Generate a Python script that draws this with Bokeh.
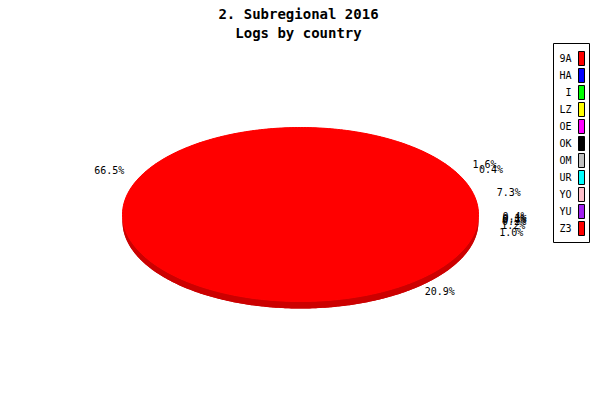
import numpy as np
from bokeh.plotting import figure
from bokeh.models import Range1d, ColumnDataSource
from bokeh.embed import file_html
from bokeh.resources import INLINE
from bokeh.core.properties import value

# ---- data ----
countries = ["9A", "HA", "I", "LZ", "OE", "OK", "OM", "UR", "YO", "YU", "Z3"]
shares = [66.5, 1.6, 0.4, 7.3, 0.4, 0.1, 0.4, 0.2, 1.2, 1.0, 20.9]
legend_colors = ["#ff0000", "#0000ff", "#00ff00", "#ffff00", "#ff00ff", "#000000",
                 "#c0c0c0", "#00ffff", "#ffc0cb", "#a020f0", "#ff0000"]
title_lines = ["2. Subregional 2016", "Logs by country"]

# ---- styling / layout ----
SLICE_COLOR = "#ff0000"   # the original renders every slice in red
SIDE_COLOR = "#cc0000"
MONO = value("DejaVu Sans Mono")
CX, CY, RX, RY, DEPTH = 300.0, 214.0, 178.0, 87.0, 7.0
START, DIRECTION = 273.0, -1.0   # clockwise
LAB_RX, LAB_RY, LAB_CY = 214.0, 100.0, 215.0

p = figure(width=600, height=400, x_range=Range1d(0, 600), y_range=Range1d(400, 0),
           output_backend="svg", toolbar_location=None, min_border=0,
           x_axis_location=None, y_axis_location=None)
p.grid.visible = False
p.outline_line_color = None
p.background_fill_color = "white"
p.border_fill_color = "white"

def ell(a_deg, cy):
    a = np.radians(a_deg)
    return CX + RX * np.cos(a), cy - RY * np.sin(a)

# slice angles
angles = []
cum = 0.0
for v in shares:
    a0 = START + DIRECTION * cum * 3.6
    a1 = START + DIRECTION * (cum + v) * 3.6
    angles.append((a0, a1))
    cum += v

# base shapes under the slices (hide antialiasing seams)
full = np.linspace(0, 360, 361)
bx, by = ell(np.linspace(180, 360, 181), CY)
bx2, by2 = ell(np.linspace(360, 180, 181), CY + DEPTH)
p.patch(list(bx) + list(bx2), list(by) + list(by2), fill_color=SIDE_COLOR, line_color=None)
fx, fy = ell(full, CY)
p.patch(fx, fy, fill_color=SLICE_COLOR, line_color=None)

# side (visible lower half) per slice
side_xs, side_ys = [], []
for a0, a1 in angles:
    n = max(int(abs(a1 - a0) * 2) + 2, 3)
    aa = np.linspace(a0, a1, n)
    mask = np.sin(np.radians(aa)) <= 0.0
    if not mask.any():
        continue
    idx = np.where(mask)[0]
    runs = np.split(idx, np.where(np.diff(idx) != 1)[0] + 1)
    for r in runs:
        if len(r) < 2:
            continue
        seg = aa[r]
        xt, yt = ell(seg, CY)
        xb, yb = ell(seg[::-1], CY + DEPTH)
        side_xs.append(list(xt) + list(xb))
        side_ys.append(list(yt) + list(yb))
p.patches(side_xs, side_ys, fill_color=SIDE_COLOR, line_color=None)

# top slices
top_xs, top_ys = [], []
for a0, a1 in angles:
    n = max(int(abs(a1 - a0) * 2) + 2, 3)
    aa = np.linspace(a0, a1, n)
    x, y = ell(aa, CY)
    top_xs.append([CX] + list(x))
    top_ys.append([CY] + list(y))
p.patches(top_xs, top_ys, fill_color=SLICE_COLOR, line_color=None)
p.patch(fx, fy, fill_color=None, line_color=SLICE_COLOR, line_width=1)

# percentage labels
mids = np.radians([(a0 + a1) / 2 for a0, a1 in angles])
lab = ColumnDataSource(dict(
    x=CX + LAB_RX * np.cos(mids),
    y=LAB_CY - LAB_RY * np.sin(mids),
    t=[f"{v:.1f}%" for v in shares]))
p.text("x", "y", text="t", source=lab, text_font=MONO, text_font_size="10px",
       text_align="center", text_baseline="middle", text_color="black")

# title
p.text(x=[298, 298], y=[13, 32], text=title_lines, text_font=MONO,
       text_font_size="14px", text_font_style="bold", text_align="center",
       text_baseline="middle", text_color="black")

# legend
LG_L, LG_R, LG_T, LG_B = 553, 589, 43, 242
p.quad(left=[LG_L], right=[LG_R], top=[LG_T], bottom=[LG_B],
       fill_color="white", line_color="black", line_width=1)
rows = np.arange(len(countries))
sw_top = 51 + rows * 17
p.quad(left=578, right=584, top=sw_top, bottom=sw_top + 14,
       fill_color=legend_colors, line_color="black", line_width=1)
p.text(x=571, y=sw_top + 7, text=countries, text_font=MONO, text_font_size="10px",
       text_align="right", text_baseline="middle", text_color="black")

open("out.html", "w").write(file_html(p, INLINE))
